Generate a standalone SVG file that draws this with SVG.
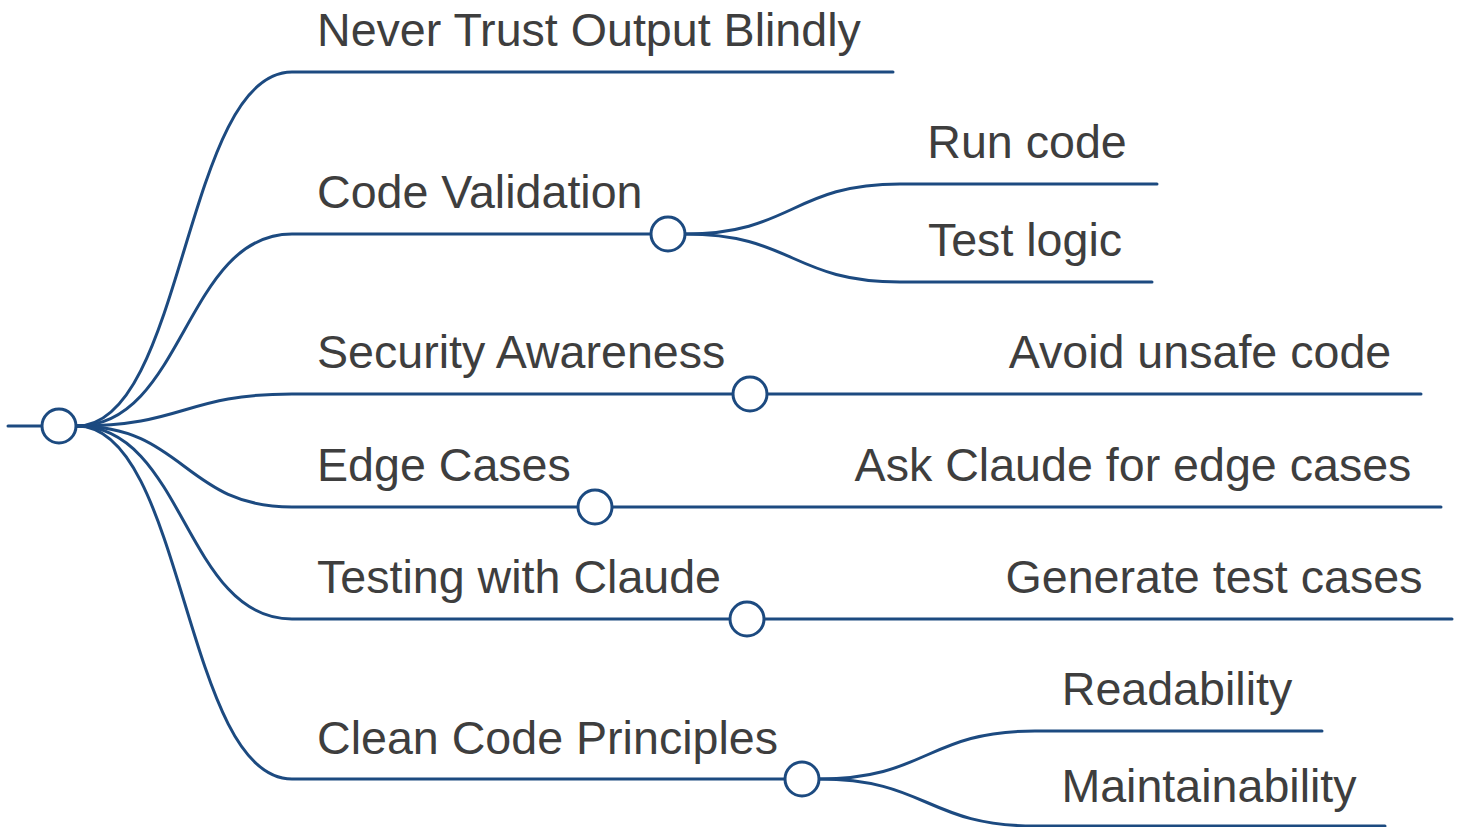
<svg xmlns="http://www.w3.org/2000/svg" width="1464" height="827" viewBox="0 0 1464 827">
<style>
.l{fill:none;stroke:#1c4a80;stroke-width:3;stroke-linecap:round}
.c{fill:#fff;stroke:#1c4a80;stroke-width:3}
.t{font-family:"Liberation Sans",Arial,sans-serif;font-size:46.6px;fill:#3e3e3e}
.m{text-anchor:middle}
</style>
<rect width="1464" height="827" fill="#fff"/>
<g id="connectors">
<path class="l" d="M8 426H42"/>
<path class="l" d="M77 426C184.5 426 184.5 72 292 72H893"/>
<path class="l" d="M77 426C184.5 426 184.5 234 292 234H651"/>
<path class="l" d="M77 426C184.5 426 184.5 394 292 394H733"/>
<path class="l" d="M77 426C184.5 426 184.5 507 292 507H578"/>
<path class="l" d="M77 426C184.5 426 184.5 619 292 619H730"/>
<path class="l" d="M77 426C184.5 426 184.5 779 292 779H785"/>
<path class="l" d="M685 234C792.5 234 792.5 184 900 184H1157"/>
<path class="l" d="M685 234C792.5 234 792.5 282 900 282H1152"/>
<path class="l" d="M767 394H1421"/>
<path class="l" d="M612 507H1441"/>
<path class="l" d="M764 619H1452"/>
<path class="l" d="M819 779C927 779 927 731 1035 731H1322"/>
<path class="l" d="M819 779C927 779 927 826 1035 826H1385"/>
</g>
<g id="root"><circle class="c" cx="59" cy="426" r="17"/></g>
<g id="n-never"><text class="t" x="317" y="46">Never Trust Output Blindly</text></g>
<g id="n-codeval"><text class="t" x="317" y="208">Code Validation</text><circle class="c" cx="668" cy="234" r="17"/></g>
<g id="n-run"><text class="t m" x="1027" y="158">Run code</text></g>
<g id="n-test"><text class="t m" x="1025" y="256">Test logic</text></g>
<g id="n-security"><text class="t" x="317" y="368">Security Awareness</text><circle class="c" cx="750" cy="394" r="17"/></g>
<g id="n-avoid"><text class="t m" x="1200" y="368">Avoid unsafe code</text></g>
<g id="n-edge"><text class="t" x="317" y="481">Edge Cases</text><circle class="c" cx="595" cy="507" r="17"/></g>
<g id="n-ask"><text class="t m" x="1133" y="481">Ask Claude for edge cases</text></g>
<g id="n-testing"><text class="t" x="317" y="593">Testing with Claude</text><circle class="c" cx="747" cy="619" r="17"/></g>
<g id="n-generate"><text class="t m" x="1214" y="593">Generate test cases</text></g>
<g id="n-clean"><text class="t" x="317" y="754">Clean Code Principles</text><circle class="c" cx="802" cy="779" r="17"/></g>
<g id="n-read"><text class="t m" x="1177" y="705">Readability</text></g>
<g id="n-maint"><text class="t m" x="1209" y="802">Maintainability</text></g>
</svg>
